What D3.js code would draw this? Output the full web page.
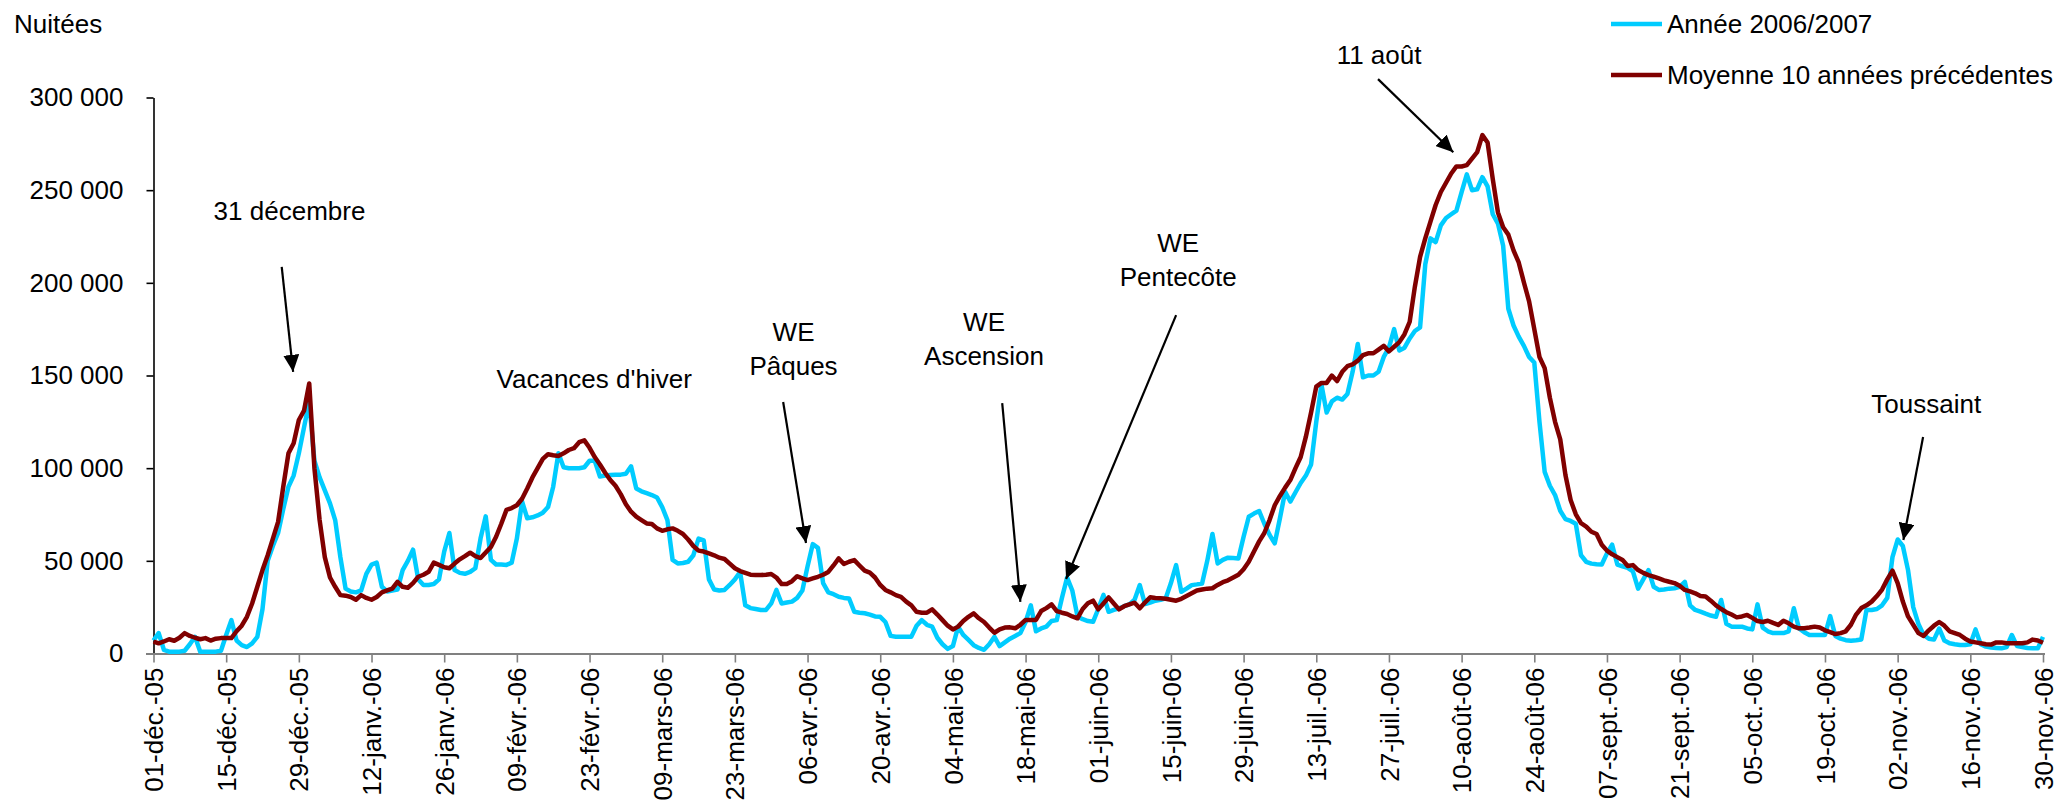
<!DOCTYPE html>
<html>
<head>
<meta charset="utf-8">
<script src="https://cdn.jsdelivr.net/npm/d3@7"></script>
<style>
  body { margin: 0; background: #fff; }
  svg { display: block; font-family: "Liberation Sans", Arial, sans-serif; }
</style>
</head>
<body>
<div id="chart"></div>
<script>
// daily values, 01-déc.-05 .. 30-nov.-06 (365 days)
var annee = [
  7000, 11000, 2000, 1000, 1000, 1000, 1500,
  5000, 9000, 1000, 1000, 1000, 1000, 1500,
  10000, 18000, 7000, 4500, 3500, 5500, 9000,
  24000, 50000, 58000, 65000, 78000, 90000, 96000,
  108000, 122000, 136000, 104000, 95000, 88000, 81000,
  72000, 52000, 35000, 33500, 33000, 34000, 43000,
  48000, 49000, 36000, 33500, 34000, 34500, 45000,
  50000, 56000, 40000, 37000, 37000, 37500, 40000,
  55000, 65000, 45000, 43500, 43000, 44000, 46000,
  62000, 74000, 50500, 48000, 48000, 47800, 49000,
  62000, 82000, 73000, 73500, 74500, 76000, 79000,
  90000, 108000, 100500, 100000, 100000, 100000, 100500,
  104000, 104000, 95500, 96000, 96300, 96500, 96500,
  97000, 101000, 89000, 87500, 86500, 85500, 84200,
  79000, 72000, 50500, 48600, 48800, 49500, 53000,
  62000, 61000, 40000, 34500, 34000, 34300, 37000,
  40000, 44000, 26000, 24500, 24000, 23500, 23500,
  27000, 34300, 27000, 27500, 28000, 30000, 34000,
  47000, 59000, 57000, 38000, 33000, 32000, 30600,
  30000, 29700, 22500, 22000, 21700, 21000, 20000,
  19800, 17000, 9500, 9000, 9000, 9000, 9100,
  15000, 18000, 15500, 14500, 8500, 5000, 2500,
  4000, 14500, 10000, 7300, 4500, 3000, 2000,
  5000, 9000, 4000, 6000, 8000, 9500, 11000,
  17000, 26000, 12000, 13500, 14500, 17500, 18000,
  30000, 41000, 34000, 20000, 18500, 17500, 17100,
  24000, 31600, 22500, 23500, 24400, 25500, 26500,
  29000, 36900, 26700, 27500, 28500, 29000, 29800,
  38000, 47700, 33300, 35000, 36900, 37300, 37800,
  50000, 64500, 48600, 50500, 51700, 51500, 51300,
  63000, 73800, 75500, 76900, 70000, 64000, 59400,
  73000, 87300, 82000, 87000, 92000, 96000, 102000,
  125000, 145000, 130000, 136000, 138000, 137000, 140000,
  152000, 167000, 149000, 150000, 150000, 152000, 160000,
  165000, 175000, 163500, 165000, 170000, 174000, 176000,
  210000, 224000, 222000, 231000, 235000, 237000, 239000,
  249000, 258500, 250000, 250500, 257000, 252000, 237000,
  232000, 220000, 186000, 177000, 171000, 166000, 160000,
  157000, 125000, 98000, 90500, 85500, 77000, 72500,
  71500, 70000, 53000, 49500, 48500, 48200, 48000,
  54000, 58700, 48000, 47000, 46200, 44300, 35000,
  40000, 45000, 36000, 34300, 34500, 35000, 35200,
  36000, 38700, 26000, 23500, 22600, 21500, 20500,
  19800, 28900, 16000, 14500, 14500, 14500, 13500,
  13000, 26500, 14000, 12000, 11000, 11000, 11000,
  12000, 24400, 13500, 11500, 10000, 10000, 10000,
  10000, 20200, 9500, 8000, 7200, 6900, 7200,
  7600, 23500, 23500, 24000, 26000, 30000, 52000,
  61500, 58000, 45000, 25000, 16000, 10000, 8000,
  7500, 13500, 7000, 5500, 5000, 4600, 4600,
  5000, 13000, 5000, 3700, 3200, 3000, 2800,
  3500, 10000, 4000, 3500, 3000, 2800, 2800,
  9000
];

var moyenne = [
  6400, 5500, 6500, 7700, 6900, 8500, 11000,
  9500, 8500, 7700, 8300, 7000, 8000, 8300,
  8300, 8300, 12000, 15000, 19800, 27000, 36000,
  45000, 53000, 62000, 71000, 90000, 108000, 113500,
  126000, 131000, 145700, 100000, 72000, 52000, 41000,
  36000, 31500, 31200, 30500, 29000, 31500, 30000,
  29000, 30500, 33000, 34000, 35000, 38700, 36000,
  35500, 38000, 41400, 42500, 44100, 49000, 47800,
  46500, 46000, 48500, 50800, 52500, 54400, 52500,
  51500, 54500, 57500, 63000, 70000, 77500, 78500,
  80000, 83500, 89000, 95000, 100000, 105000, 107500,
  107000, 106600, 108000, 109800, 110800, 114000, 115000,
  111000, 106000, 102000, 97500, 93600, 90500, 86000,
  80500, 76500, 73800, 72000, 70200, 69900, 67500,
  66200, 67000, 67500, 66200, 64500, 61500, 58000,
  55500, 55000, 54000, 53000, 51700, 51000, 48500,
  46000, 44500, 43500, 42500, 42300, 42300, 42500,
  42900, 41000, 37500, 37500, 39000, 41700, 40500,
  39600, 40500, 41400, 42500, 44000, 47500, 51300,
  48300, 49500, 50400, 47500, 44700, 43600, 41000,
  37000, 34300, 33000, 31500, 30600, 28000, 26000,
  22500, 22000, 22000, 23800, 21000, 18000, 15000,
  13000, 14500, 17500, 19800, 21700, 19000, 17000,
  14000, 11200, 13000, 14000, 14100, 13600, 15500,
  18100, 18100, 18100, 22900, 24500, 26500, 22900,
  22000, 21300, 20000, 19000, 24000, 27100, 28500,
  23800, 27000, 30300, 27000, 23800, 25500, 26500,
  27400, 24400, 27500, 30300, 29900, 29800, 29500,
  29000, 28500, 29500, 31000, 32500, 34000, 34500,
  35000, 35200, 37000, 38500, 39500, 41000, 42500,
  45500, 49500, 55000, 60500, 65000, 72000, 80000,
  85000, 89500, 93600, 100000, 106000, 117000, 130000,
  144000, 146000, 146000, 150000, 147000, 152000, 155000,
  156000, 158000, 161000, 162000, 162000, 164000, 166000,
  163000, 165500, 168000, 172300, 179000, 198000, 214000,
  224000, 233000, 242000, 249000, 254000, 259000, 262800,
  262800, 263500, 267000, 270500, 279700, 275700, 256000,
  238000, 230000, 226000, 217500, 211000, 200200, 190000,
  175000, 160000, 154000, 138000, 125000, 115500, 96300,
  82800, 75100, 70300, 68500, 65700, 64500, 58700,
  55500, 53500, 52000, 50500, 47200, 47700, 45000,
  43500, 42300, 41500, 40500, 39500, 38700, 38000,
  36500, 34300, 33500, 32500, 31000, 30700, 28500,
  26000, 24000, 22300, 21000, 19500, 20000, 20800,
  19200, 17500, 17000, 17700, 16500, 15400, 17700,
  16300, 14500, 13600, 13600, 14000, 14500, 14000,
  12500, 11500, 10500, 11000, 12000, 15500, 21000,
  24500, 26000, 28000, 31000, 34500, 40000, 44700,
  38000, 28000, 20000, 15500, 11000, 9500, 12500,
  15000, 17000, 15000, 12000, 11000, 10000, 8000,
  6500, 6000, 5500, 5000, 4800, 6000, 6000,
  5500, 5500, 5500, 5500, 6000, 7500, 7000,
  5800
];

var seriesNames = ["Année 2006/2007", "Moyenne 10 années précédentes"];
var yTicks = [0, 50000, 100000, 150000, 200000, 250000, 300000];
var tickLabels = ["01-déc.-05","15-déc.-05","29-déc.-05","12-janv.-06","26-janv.-06","09-févr.-06",
  "23-févr.-06","09-mars-06","23-mars-06","06-avr.-06","20-avr.-06","04-mai-06","18-mai-06",
  "01-juin-06","15-juin-06","29-juin-06","13-juil.-06","27-juil.-06","10-août-06","24-août-06",
  "07-sept.-06","21-sept.-06","05-oct.-06","19-oct.-06","02-nov.-06","16-nov.-06","30-nov.-06"];

// annotations : text lines at (day, value), arrow from (day, value) to (day, value)
var notes = [
  {lines: ["31 décembre"], day: 26.2, value: 233800, from: [24.7, 208600], to: [26.9, 152000]},
  {lines: ["Vacances d'hiver"], day: 84.9, value: 143200},
  {lines: ["WE", "Pâques"], day: 123.3, value: 168600, from: [121.3, 135700], to: [125.7, 59600]},
  {lines: ["WE", "Ascension"], day: 160, value: 174000, from: [163.5, 135100], to: [167, 27900]},
  {lines: ["WE", "Pentecôte"], day: 197.4, value: 216600, from: [197, 182600], to: [175.8, 40200]},
  {lines: ["11 août"], day: 236.1, value: 318000, from: [235.9, 309900], to: [250.4, 270500]},
  {lines: ["Toussaint"], day: 341.5, value: 129700, from: [340.9, 116800], to: [337.1, 61200]}
];

var width = 2060, height = 806;
var start = Date.UTC(2005, 11, 1);
function dayDate(d) { return new Date(start + d * 864e5); }

var svg = d3.select("#chart").append("svg")
  .attr("width", width).attr("height", height);

var x = d3.scaleUtc().domain([dayDate(0), dayDate(364)]).range([153.5, 2043]);
var y = d3.scaleLinear().domain([0, 300000]).range([653.5, 97.5]);

var fr = d3.formatLocale({decimal: ",", thousands: " ", grouping: [3], currency: ["", " €"]});
var fmt = fr.format(",");

// y axis
var yAxis = svg.append("g")
  .attr("transform", "translate(153.5,0)")
  .call(d3.axisLeft(y).tickValues(yTicks).tickFormat(fmt).tickSize(7).tickSizeOuter(0).tickPadding(23));
yAxis.select(".domain").attr("stroke", "#000").attr("stroke-width", 1.6);
yAxis.selectAll(".tick line").attr("stroke", "#000").attr("stroke-width", 1.6);
yAxis.selectAll(".tick text").attr("font-size", 26).attr("fill", "#000")
  .attr("font-family", "Liberation Sans, Arial, sans-serif");
yAxis.selectAll(".tick").filter(function(d) { return d === 0; }).select("line").attr("stroke", "#808080");

// x axis
var tickDates = d3.range(0, 365, 14).map(dayDate);
var xAxis = svg.append("g")
  .attr("transform", "translate(0,653.5)")
  .call(d3.axisBottom(x).tickValues(tickDates)
    .tickFormat(function(d, i) { return tickLabels[i]; })
    .tickSize(9).tickSizeOuter(0));
xAxis.select(".domain").attr("stroke", "#808080").attr("stroke-width", 2.2)
  .attr("d", "M146,0.5H2045");
xAxis.selectAll(".tick line").attr("stroke", "#808080").attr("stroke-width", 1.6);
xAxis.selectAll(".tick text")
  .attr("font-size", 26).attr("fill", "#000")
  .attr("font-family", "Liberation Sans, Arial, sans-serif")
  .attr("transform", "rotate(-90)")
  .attr("x", -14).attr("y", 0).attr("dy", "0.35em")
  .style("text-anchor", "end");

// lines
var line = d3.line()
  .x(function(d, i) { return x(dayDate(i)); })
  .y(function(d) { return y(d); });

svg.append("path").datum(annee)
  .attr("fill", "none").attr("stroke", "#00CCFF").attr("stroke-width", 4.5)
  .attr("stroke-linejoin", "round").attr("d", line);
svg.append("path").datum(moyenne)
  .attr("fill", "none").attr("stroke", "#800000").attr("stroke-width", 4.5)
  .attr("stroke-linejoin", "round").attr("d", line);

// y title
svg.append("text").attr("x", 14).attr("y", 33).attr("font-size", 26).text("Nuitées");

// legend
var legColors = ["#00CCFF", "#800000"];
var leg = svg.append("g").selectAll("g").data(seriesNames).enter().append("g")
  .attr("transform", function(d, i) { return "translate(1611," + (24 + i * 51) + ")"; });
leg.append("line").attr("x1", 0).attr("x2", 51).attr("y1", 0).attr("y2", 0)
  .attr("stroke", function(d, i) { return legColors[i]; }).attr("stroke-width", 4.5);
leg.append("text").attr("x", 56).attr("y", 0).attr("dy", "0.35em")
  .attr("font-size", 26).text(function(d) { return d; });

// annotations
svg.append("defs").append("marker")
  .attr("id", "head").attr("markerUnits", "userSpaceOnUse")
  .attr("viewBox", "0 -8 17 16").attr("refX", 17).attr("refY", 0)
  .attr("markerWidth", 17).attr("markerHeight", 16).attr("orient", "auto")
  .append("path").attr("d", "M0,-8L17,0L0,8Z").attr("fill", "#000");

var ann = svg.append("g");
notes.forEach(function(n) {
  var t = ann.append("text")
    .attr("x", x(dayDate(n.day))).attr("y", y(n.value))
    .attr("font-size", 26).attr("text-anchor", "middle");
  n.lines.forEach(function(l, k) {
    t.append("tspan").attr("x", x(dayDate(n.day))).attr("dy", k === 0 ? 0 : 34).text(l);
  });
  if (n.from) {
    ann.append("line")
      .attr("x1", x(dayDate(n.from[0]))).attr("y1", y(n.from[1]))
      .attr("x2", x(dayDate(n.to[0]))).attr("y2", y(n.to[1]))
      .attr("stroke", "#000").attr("stroke-width", 2.2)
      .attr("marker-end", "url(#head)");
  }
});
</script>
</body>
</html>
